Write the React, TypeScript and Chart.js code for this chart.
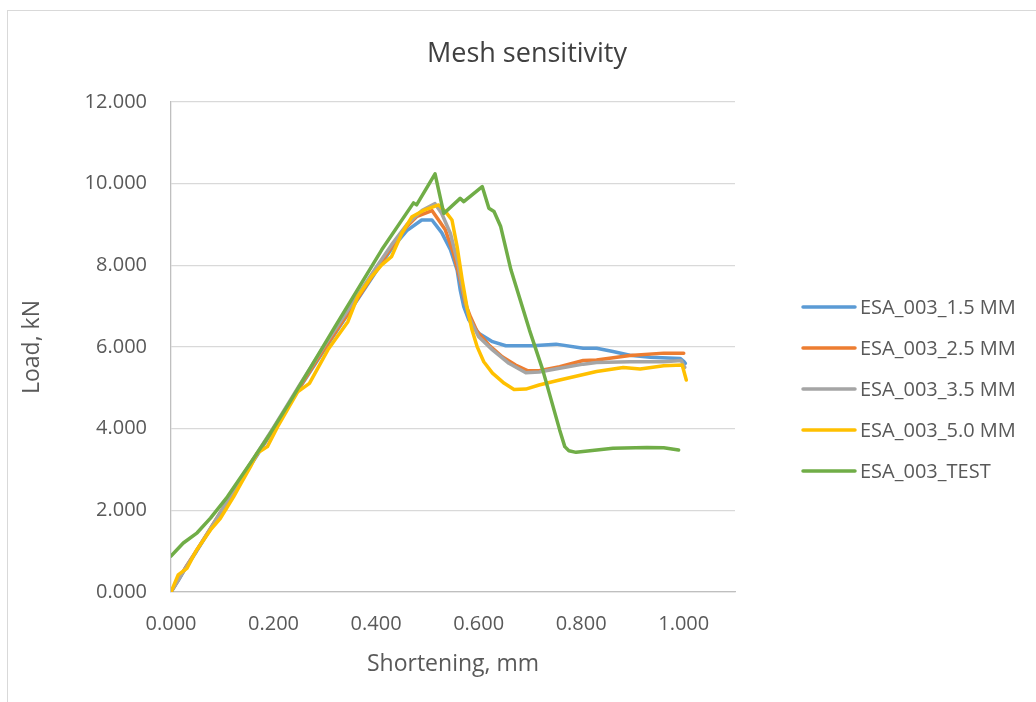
import React, { useEffect, useRef } from "react";
import { Chart, registerables } from "chart.js";

Chart.register(...registerables);

const chartTitle = "Mesh sensitivity";
const xAxisTitle = "Shortening, mm";
const yAxisTitle = "Load, kN";

const seriesNames = ["ESA_003_1.5 MM", "ESA_003_2.5 MM", "ESA_003_3.5 MM", "ESA_003_5.0 MM", "ESA_003_TEST"];
const seriesColors = ["#5B9BD5", "#ED7D31", "#A5A5A5", "#FFC000", "#70AD47"];

const mesh15X = [0, 0.015, 0.03, 0.05, 0.08, 0.1, 0.15, 0.2, 0.25, 0.3, 0.35, 0.4, 0.43, 0.46, 0.489, 0.509, 0.528, 0.545, 0.558, 0.564, 0.571, 0.581, 0.6, 0.627, 0.653, 0.705, 0.751, 0.804, 0.83, 0.862, 0.895, 0.935, 0.993, 1.0, 1.003];
const mesh15Y = [0, 0.3, 0.62, 1.0, 1.6, 2.0, 3.0, 3.98, 4.98, 5.95, 6.9, 7.85, 8.4, 8.85, 9.11, 9.11, 8.8, 8.38, 7.89, 7.4, 6.99, 6.66, 6.34, 6.13, 6.03, 6.03, 6.07, 5.97, 5.97, 5.89, 5.8, 5.75, 5.72, 5.65, 5.6];

const mesh25X = [0, 0.015, 0.03, 0.05, 0.08, 0.1, 0.15, 0.2, 0.25, 0.3, 0.35, 0.4, 0.43, 0.46, 0.48, 0.509, 0.535, 0.551, 0.564, 0.574, 0.584, 0.597, 0.62, 0.646, 0.672, 0.695, 0.718, 0.758, 0.804, 0.83, 0.895, 0.961, 1.0];
const mesh25Y = [0, 0.32, 0.63, 1.02, 1.62, 2.02, 3.02, 4.0, 5.0, 5.98, 6.92, 7.88, 8.45, 8.95, 9.2, 9.34, 8.87, 8.29, 7.64, 7.07, 6.74, 6.38, 6.05, 5.76, 5.56, 5.42, 5.42, 5.52, 5.67, 5.68, 5.79, 5.85, 5.85];

const mesh35X = [0, 0.015, 0.03, 0.05, 0.08, 0.1, 0.15, 0.2, 0.25, 0.3, 0.35, 0.4, 0.43, 0.46, 0.49, 0.515, 0.528, 0.545, 0.558, 0.568, 0.581, 0.6, 0.627, 0.659, 0.692, 0.718, 0.758, 0.804, 0.83, 0.895, 0.961, 0.995, 1.002];
const mesh35Y = [0, 0.31, 0.62, 1.02, 1.62, 2.03, 3.05, 4.03, 5.05, 6.05, 7.0, 7.95, 8.5, 9.0, 9.35, 9.51, 9.27, 8.78, 8.13, 7.48, 6.74, 6.25, 5.93, 5.6, 5.37, 5.39, 5.48, 5.58, 5.62, 5.64, 5.64, 5.67, 5.5];

const mesh50X = [0, 0.014, 0.031, 0.05, 0.077, 0.096, 0.122, 0.136, 0.155, 0.168, 0.188, 0.208, 0.247, 0.27, 0.306, 0.345, 0.364, 0.391, 0.411, 0.43, 0.45, 0.47, 0.495, 0.522, 0.535, 0.548, 0.558, 0.568, 0.577, 0.587, 0.597, 0.61, 0.627, 0.65, 0.669, 0.692, 0.718, 0.758, 0.83, 0.882, 0.915, 0.961, 0.997, 1.005];
const mesh50Y = [0, 0.42, 0.58, 1.03, 1.52, 1.8, 2.33, 2.65, 3.07, 3.4, 3.56, 4.05, 4.9, 5.11, 5.93, 6.62, 7.23, 7.72, 8.01, 8.21, 8.78, 9.19, 9.36, 9.48, 9.32, 9.11, 8.46, 7.64, 6.99, 6.42, 6.01, 5.64, 5.36, 5.11, 4.96, 4.97, 5.07, 5.19, 5.4, 5.5, 5.46, 5.54, 5.56, 5.19];

const testX = [0, 0.024, 0.051, 0.077, 0.11, 0.155, 0.194, 0.234, 0.32, 0.411, 0.473, 0.479, 0.515, 0.532, 0.564, 0.571, 0.607, 0.62, 0.63, 0.643, 0.663, 0.699, 0.725, 0.758, 0.768, 0.776, 0.79, 0.862, 0.928, 0.961, 0.99];
const testY = [0.88, 1.2, 1.45, 1.81, 2.33, 3.16, 3.89, 4.7, 6.5, 8.38, 9.53, 9.48, 10.24, 9.27, 9.64, 9.56, 9.93, 9.4, 9.32, 8.95, 7.89, 6.42, 5.44, 3.97, 3.56, 3.46, 3.42, 3.52, 3.54, 3.53, 3.48];

const yTickValues = [0, 2, 4, 6, 8, 10, 12];
const xTickValues = [0, 0.2, 0.4, 0.6, 0.8, 1.0];

const seriesX = [mesh15X, mesh25X, mesh35X, mesh50X, testX];
const seriesY = [mesh15Y, mesh25Y, mesh35Y, mesh50Y, testY];

const FONT = "'Open Sans', 'DejaVu Sans', sans-serif";
const TEXT_COLOR = "#595959";
const TITLE_COLOR = "#404040";

const titleLegendPlugin = {
  id: "titleLegend",
  afterDraw(chart: any) {
    const ctx = chart.ctx;
    ctx.save();
    ctx.fillStyle = TITLE_COLOR;
    ctx.font = `27px ${FONT}`;
    ctx.textAlign = "center";
    ctx.textBaseline = "middle";
    ctx.fillText(chartTitle, 519, 46);

    ctx.font = `20px ${FONT}`;
    ctx.textAlign = "left";
    seriesNames.forEach((name, i) => {
      const y = 299 + i * 41;
      ctx.strokeStyle = seriesColors[i];
      ctx.lineWidth = 3.5;
      ctx.lineCap = "round";
      ctx.beginPath();
      ctx.moveTo(795, y);
      ctx.lineTo(847, y);
      ctx.stroke();
      ctx.fillStyle = TEXT_COLOR;
      ctx.fillText(name, 852, y + 1);
    });
    ctx.restore();
  },
};

function ChartView() {
  const canvasRef = useRef<HTMLCanvasElement | null>(null);

  useEffect(() => {
    const canvas = canvasRef.current;
    if (!canvas) return;
    const datasets = seriesNames.map((name, i) => ({
      label: name,
      data: seriesX[i].map((x, j) => ({ x, y: seriesY[i][j] })),
      borderColor: seriesColors[i],
      backgroundColor: seriesColors[i],
      borderWidth: 3.5,
      borderJoinStyle: "round",
      borderCapStyle: "round",
      pointRadius: 0,
      tension: 0,
      fill: false,
      showLine: true,
      order: seriesNames.length - i,
    }));

    const chart = new Chart(canvas, {
      type: "scatter",
      data: { datasets },
      plugins: [titleLegendPlugin],
      options: {
        animation: false,
        responsive: false,
        maintainAspectRatio: false,
        layout: { padding: { left: 0, top: 94, right: 293, bottom: 0 } },
        plugins: {
          legend: { display: false },
          tooltip: { enabled: false },
          title: { display: false },
        },
        scales: {
          x: {
            type: "linear",
            min: 0,
            max: 1.1,
            afterBuildTicks: (scale: any) => {
              scale.ticks = xTickValues.map((v) => ({ value: v }));
            },
            afterFit: (scale: any) => {
              scale.height = 102;
            },
            grid: { display: false, drawTicks: false },
            border: { display: true, color: "#BFBFBF", width: 1.3 },
            ticks: {
              color: TEXT_COLOR,
              font: { family: FONT, size: 20 },
              padding: 20,
              maxRotation: 0,
              autoSkip: false,
              callback: (v: any) => Number(v).toFixed(3),
            },
            title: {
              display: true,
              text: xAxisTitle,
              color: TEXT_COLOR,
              font: { family: FONT, size: 23 },
              padding: { top: 0, bottom: 16 },
            },
          },
          y: {
            type: "linear",
            min: 0,
            max: 12,
            afterBuildTicks: (scale: any) => {
              scale.ticks = yTickValues.map((v) => ({ value: v }));
            },
            afterFit: (scale: any) => {
              scale.width = 163;
            },
            grid: { color: "#D9D9D9", lineWidth: 1.3, drawTicks: false },
            border: { display: true, color: "#BFBFBF", width: 1.3 },
            ticks: {
              color: TEXT_COLOR,
              font: { family: FONT, size: 20 },
              padding: 24,
              autoSkip: false,
              callback: (v: any) => Number(v).toFixed(3),
            },
            title: {
              display: true,
              text: yAxisTitle,
              color: TEXT_COLOR,
              font: { family: FONT, size: 23 },
              padding: { top: 11, bottom: 0 },
            },
          },
        },
      },
    } as any);

    return () => {
      chart.destroy();
    };
  }, []);

  return (
    <div style={{ width: 1020, height: 686, position: "relative" }}>
      <canvas ref={canvasRef} width={1020} height={686} style={{ display: "block", width: 1020, height: 686 }} />
    </div>
  );
}

export default function App() {
  return (
    <>
      <div style={{ position: "fixed", top: 10, left: 8, right: 0, height: 1, background: "#D9D9D9" }} />
      <div style={{ position: "fixed", top: 10, left: 7, bottom: 0, width: 1, background: "#D9D9D9" }} />
      <ChartView />
    </>
  );
}
